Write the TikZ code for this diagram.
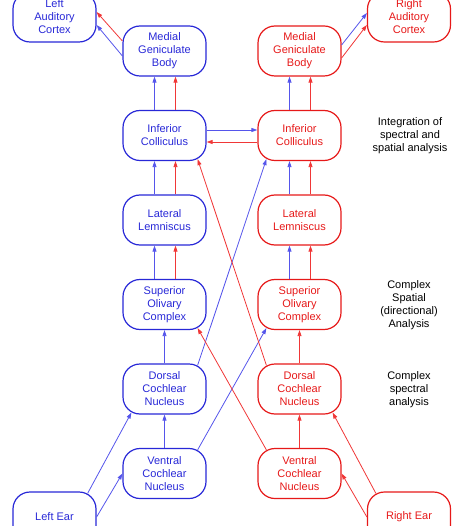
\documentclass[tikz,border=0pt]{standalone}
\usepackage{fontspec}
\setmainfont{Liberation Sans}
\usetikzlibrary{arrows.meta}
\definecolor{nblue}{RGB}{40,40,215}
\definecolor{nred}{RGB}{230,25,25}
\definecolor{lblue}{RGB}{85,85,235}
\definecolor{lred}{RGB}{240,55,55}

\begin{document}
\begin{tikzpicture}[x=1pt, y=-1pt,
	every node/.style={font=\fontsize{11}{13}\selectfont, align=center},
	>={Triangle[length=6pt,width=4pt]},
	box/.style={draw, line width=1.2pt, rounded corners=17pt, minimum width=83pt, minimum height=50pt, inner sep=0pt},
	lbox/.style={box, nblue, text=nblue},
	rbox/.style={box, nred, text=nred},
	bl/.style={->, lblue, line width=0.8pt},
	rd/.style={->, lred, line width=0.8pt}]
	\useasboundingbox (0,0) rectangle (474,526);
	% left pathway
	\node[lbox] (lac)  at (54.5,17)    {Left\\Auditory\\Cortex};
	\node[lbox] (lmgb) at (164.5,51)   {Medial\\Geniculate\\Body};
	\node[lbox] (lic)  at (164.5,135.5) {Inferior\\Colliculus};
	\node[lbox] (lll)  at (164.5,220)  {Lateral\\Lemniscus};
	\node[lbox] (lsoc) at (164.5,304.5) {Superior\\Olivary\\Complex};
	\node[lbox] (ldcn) at (164.5,389)  {Dorsal\\Cochlear\\Nucleus};
	\node[lbox] (lvcn) at (164.5,473.5) {Ventral\\Cochlear\\Nucleus};
	\node[lbox] (lear) at (54.5,517)   {Left Ear};
	% right pathway
	\node[rbox] (rac)  at (409,17)     {Right\\Auditory\\Cortex};
	\node[rbox] (rmgb) at (299.5,51)   {Medial\\Geniculate\\Body};
	\node[rbox] (ric)  at (299.5,135.5) {Inferior\\Colliculus};
	\node[rbox] (rll)  at (299.5,220)  {Lateral\\Lemniscus};
	\node[rbox] (rsoc) at (299.5,304.5) {Superior\\Olivary\\Complex};
	\node[rbox] (rdcn) at (299.5,389)  {Dorsal\\Cochlear\\Nucleus};
	\node[rbox] (rvcn) at (299.5,473.5) {Ventral\\Cochlear\\Nucleus};
	\node[rbox] (rear) at (409,517)    {Right Ear};
	% notes
	\node (integ) at (410,136) {Integration of\\spectral and\\spatial analysis};
	\node (spat)  at (409,305) {Complex\\Spatial\\(directional)\\Analysis};
	\node (spec)  at (409,390) {Complex\\spectral\\analysis};

	% ears
	\draw[bl] ([shift={(-9,2)}]lear.north east) -- ([shift={(9,-2)}]ldcn.south west);
	\draw[bl] (lear.east) -- (lvcn.west);
	\draw[rd] ([shift={(9,2)}]rear.north west) -- ([shift={(-9,-2)}]rdcn.south east);
	\draw[rd] (rear.west) -- (rvcn.east);
	% cochlear nuclei
	\draw[bl] (lvcn) -- (ldcn);
	\draw[bl] (ldcn) -- (lsoc);
	\draw[rd] (rvcn) -- (rdcn);
	\draw[rd] (rdcn) -- (rsoc);
	% crossings
	\draw[bl] ([shift={(-9,2)}]ldcn.north east) -- ([shift={(9,-2)}]ric.south west);
	\draw[bl] ([shift={(-9,2)}]lvcn.north east) -- ([shift={(9,-2)}]rsoc.south west);
	\draw[rd] ([shift={(9,2)}]rdcn.north west) -- ([shift={(-9,-2)}]lic.south east);
	\draw[rd] ([shift={(9,2)}]rvcn.north west) -- ([shift={(-9,-2)}]lsoc.south east);
	% ascending pairs
	\draw[bl] ([xshift=-10pt]lsoc.north) -- ([xshift=-10pt]lll.south);
	\draw[rd] ([xshift=11pt]lsoc.north) -- ([xshift=11pt]lll.south);
	\draw[bl] ([xshift=-10pt]lll.north) -- ([xshift=-10pt]lic.south);
	\draw[rd] ([xshift=11pt]lll.north) -- ([xshift=11pt]lic.south);
	\draw[bl] ([xshift=-10pt]lic.north) -- ([xshift=-10pt]lmgb.south);
	\draw[rd] ([xshift=11pt]lic.north) -- ([xshift=11pt]lmgb.south);
	\draw[bl] ([xshift=-10pt]rsoc.north) -- ([xshift=-10pt]rll.south);
	\draw[rd] ([xshift=11pt]rsoc.north) -- ([xshift=11pt]rll.south);
	\draw[bl] ([xshift=-10pt]rll.north) -- ([xshift=-10pt]ric.south);
	\draw[rd] ([xshift=11pt]rll.north) -- ([xshift=11pt]ric.south);
	\draw[bl] ([xshift=-10pt]ric.north) -- ([xshift=-10pt]rmgb.south);
	\draw[rd] ([xshift=11pt]ric.north) -- ([xshift=11pt]rmgb.south);
	% between colliculi
	\draw[bl] ([yshift=5.5pt]lic.east) -- ([yshift=5.5pt]ric.west);
	\draw[rd] ([yshift=-6.5pt]ric.west) -- ([yshift=-6.5pt]lic.east);
	% to cortex
	\draw[rd] ([yshift=10pt]lmgb.west) -- ([yshift=5pt]lac.east);
	\draw[bl] ([yshift=-5pt]lmgb.west) -- ([yshift=-8pt]lac.east);
	\draw[bl] ([yshift=6pt]rmgb.east) -- ([yshift=4pt]rac.west);
	\draw[rd] ([yshift=-7pt]rmgb.east) -- ([yshift=-8pt]rac.west);
\end{tikzpicture}
\end{document}
